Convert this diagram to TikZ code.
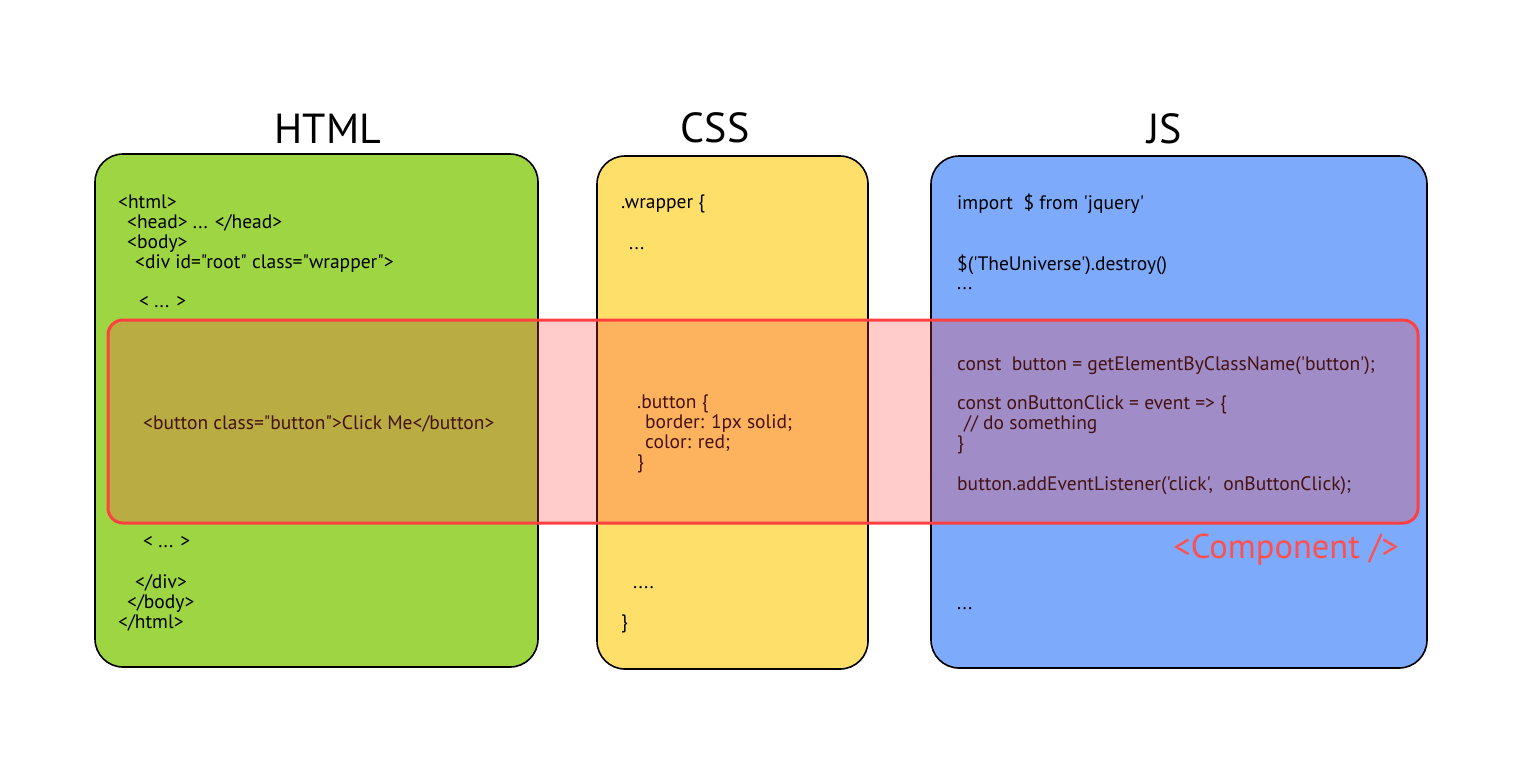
\documentclass[tikz,border=0pt]{standalone}
\usepackage{fontspec}
\setmainfont{PT Sans}[Ligatures=TeXOff]
\definecolor{htmlgreen}{RGB}{158,213,67}
\definecolor{cssyellow}{RGB}{253,223,106}
\definecolor{jsblue}{RGB}{125,170,251}
\definecolor{compred}{RGB}{255,64,64}
\definecolor{complabel}{RGB}{255,80,80}
\newcommand{\codefont}{\fontsize{19.5}{20}\selectfont}
\newcommand{\titlefont}{\fontsize{42}{48}\selectfont}
\newcommand{\complabelfont}{\fontsize{34.5}{38}\selectfont}
\tikzset{
  codeline/.style={anchor=base west, font=\codefont, inner sep=0pt, text=black},
  titlelabel/.style={anchor=base, font=\titlefont, inner sep=0pt, text=black},
  panel/.style={draw=black, line width=1.6pt, rounded corners=28pt},
  compframe/.style={draw=compred, line width=3pt, rounded corners=15pt},
}
\begin{document}
\begin{tikzpicture}[x=1pt,y=-1pt]
\useasboundingbox (0,0) rectangle (1533,769);
% panels
\draw[panel, fill=htmlgreen] (95,154) rectangle (538,667);
\draw[panel, fill=cssyellow] (597,156) rectangle (868,669);
\draw[panel, fill=jsblue] (931,156) rectangle (1427,668);
% titles
\node[titlelabel] (thtml) at (328,143) {HTML};
\node[titlelabel] (tcss) at (715,142) {CSS};
\node[titlelabel] (tjs) at (1165,143) {JS};
% HTML code
\node[codeline] (h1) at (118,208) {<html>};
\node[codeline] (h2) at (127,228) {<head> ... </head>};
\node[codeline] (h3) at (127,248) {<body>};
\node[codeline] (h4) at (135,268) {<div id="root" class="wrapper">};
\node[codeline] (h5) at (139,307) {< ... >};
\node[codeline] (h6) at (143,429) {<button class="button">Click Me</button>};
\node[codeline] (h7) at (143,547) {< ... >};
\node[codeline] (h8) at (135,588) {</div>};
\node[codeline] (h9) at (127,608) {</body>};
\node[codeline] (h10) at (118,628) {</html>};
% CSS code
\node[codeline] (c1) at (621,208) {.wrapper \{};
\node[codeline] (c2) at (629,249) {...};
\node[codeline] (c3) at (637,408) {.button \{};
\node[codeline] (c4) at (645,428) {border: 1px solid;};
\node[codeline] (c5) at (645,448) {color: red;};
\node[codeline] (c6) at (637,468) {\}};
\node[codeline] (c7) at (633,588) {....};
\node[codeline] (c8) at (621,628) {\}};
% JS code
\node[codeline] (j1) at (957,209) {import\ \ \$ from 'jquery'};
\node[codeline] (j2) at (957,270) {\$('TheUniverse').destroy()};
\node[codeline] (j3) at (957,289) {...};
\node[codeline] (j4) at (957,370) {const\ \ button = getElementByClassName('button');};
\node[codeline] (j5) at (957,409) {const onButtonClick = event => \{};
\node[codeline] (j6) at (964,429) {// do something};
\node[codeline] (j7) at (957,449) {\}};
\node[codeline] (j8) at (957,490) {button.addEventListener('click',\ \ onButtonClick);};
\node[codeline] (j9) at (957,609) {...};
% component overlay
\fill[compred, fill opacity=0.27, rounded corners=15pt] (108,320) rectangle (1418,523);
\draw[compframe] (108,320) rectangle (1418,523);
\node[anchor=base east, font=\complabelfont, text=complabel, inner sep=0pt] (comp) at (1399,558) {<Component />};
\end{tikzpicture}
\end{document}
